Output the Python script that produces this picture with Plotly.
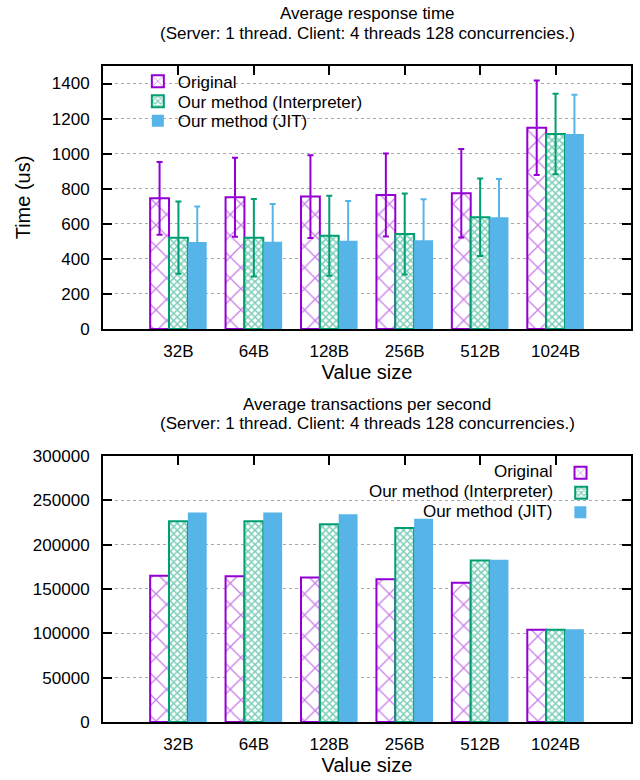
import plotly.graph_objects as go

categories = ["32B", "64B", "128B", "256B", "512B", "1024B"]
series_names = ["Original", "Our method (Interpreter)", "Our method (JIT)"]

# Average response time (us) and error (half-range)
time_original = [745, 751, 755, 764, 774, 1148]
time_interp = [521, 521, 532, 542, 637, 1112]
time_jit = [496, 498, 504, 506, 637, 1112]
err_original = [207, 225, 236, 237, 252, 270]
err_interp = [206, 221, 228, 231, 221, 230]
err_jit = [202, 215, 226, 234, 218, 224]

# Average transactions per second
tps_original = [164800, 164500, 163000, 161100, 157000, 103900]
tps_interp = [226300, 226300, 222900, 218700, 182200, 103900]
tps_jit = [236400, 236400, 234200, 229200, 182900, 104700]

PURPLE = "#9400D3"
GREEN = "#009E73"
BLUE = "#56B4E9"
FONT = "Liberation Sans, Arial, Helvetica, sans-serif"

styles = [
    dict(color="white", line=dict(color=PURPLE, width=2),
         pattern=dict(shape="x", fgcolor=PURPLE, bgcolor="white", size=15, solidity=0.17)),
    dict(color="white", line=dict(color=GREEN, width=2),
         pattern=dict(shape="x", fgcolor=GREEN, bgcolor="white", size=5, solidity=0.5)),
    dict(color=BLUE, line=dict(color=BLUE, width=0)),
]
err_colors = [PURPLE, GREEN, BLUE]

fig = go.Figure()

top_vals = [time_original, time_interp, time_jit]
top_errs = [err_original, err_interp, err_jit]
for i in range(3):
    fig.add_trace(go.Bar(
        x=categories, y=top_vals[i], name=series_names[i],
        marker=styles[i], xaxis="x", yaxis="y",
        error_y=dict(type="data", array=top_errs[i], color=err_colors[i], thickness=2, width=3),
        legend="legend" if i == 0 else "legend%d" % (i + 1),
    ))

bot_vals = [tps_original, tps_interp, tps_jit]
for i in range(3):
    fig.add_trace(go.Bar(
        x=categories, y=bot_vals[i], name=" ",
        marker=styles[i], xaxis="x2", yaxis="y2",
        legend="legend%d" % (i + 4),
    ))

idx = list(range(len(categories)))
# invisible helpers so the top (mirror) tick axes are drawn
fig.add_trace(go.Scatter(x=idx, y=time_original, xaxis="x3", yaxis="y", mode="markers",
                         marker=dict(opacity=0), showlegend=False, hoverinfo="skip"))
fig.add_trace(go.Scatter(x=idx, y=tps_original, xaxis="x4", yaxis="y2", mode="markers",
                         marker=dict(opacity=0), showlegend=False, hoverinfo="skip"))

TOP_DOMAIN = [0.5991, 1.0]
BOT_DOMAIN = [0.0, 0.4055]

common_x = dict(type="category", categoryorder="array", categoryarray=categories,
                range=[-1, len(categories)], showline=True, linecolor="black", linewidth=2,
                mirror=True, ticks="", showgrid=False, zeroline=False,
                tickfont=dict(size=17), ticklabelstandoff=6)
top_ticks = dict(range=[-1, len(categories)], tickmode="array", tickvals=idx,
                 ticks="inside", ticklen=9, tickwidth=1.5, tickcolor="black",
                 showticklabels=False, showline=False, showgrid=False, zeroline=False,
                 side="top")
common_y = dict(showline=True, linecolor="black", linewidth=2, mirror="ticks",
                ticks="inside", ticklen=9, tickwidth=1.5, tickcolor="black",
                showgrid=True, gridcolor="#a8a8a8", griddash="dot", gridwidth=1,
                zeroline=False, tickfont=dict(size=17), ticklabelstandoff=8)

fig.update_layout(
    width=640, height=780,
    margin=dict(l=103, r=9, t=66, b=58, autoexpand=False),
    plot_bgcolor="white", paper_bgcolor="white",
    font=dict(family=FONT, size=17, color="black"),
    barmode="group", bargap=0.25, bargroupgap=0,
    xaxis=dict(common_x, domain=[0, 1], anchor="y",
               title=dict(text="Value size", standoff=3)),
    xaxis2=dict(common_x, domain=[0, 1], anchor="y2",
                title=dict(text="Value size", standoff=3)),
    xaxis3=dict(top_ticks, overlaying="x", anchor="y"),
    xaxis4=dict(top_ticks, overlaying="x2", anchor="y2"),
    yaxis=dict(common_y, domain=TOP_DOMAIN, anchor="x", range=[0, 1500], dtick=200,
               title=dict(text="Time (us)", standoff=16)),
    yaxis2=dict(common_y, domain=BOT_DOMAIN, anchor="x2", range=[0, 300000], dtick=50000,
                tickformat="d"),
)

# legend backgrounds (hide the grid behind the legend, beneath the bars)
fig.add_shape(type="rect", xref="paper", yref="paper", x0=0.003, x1=0.587, y0=0.901, y1=0.997,
              fillcolor="white", line=dict(width=0), layer="between")
fig.add_shape(type="rect", xref="paper", yref="paper", x0=0.407, x1=0.997, y0=0.297, y1=0.402,
              fillcolor="white", line=dict(width=0), layer="between")

# legends for the top chart (one per entry, placed to match row spacing)
top_rows = [0.9761, 0.9456, 0.9157]
for i, yy in enumerate(top_rows):
    key = "legend" if i == 0 else "legend%d" % (i + 1)
    fig.update_layout({key: dict(x=0.066, xanchor="left", y=yy, yanchor="middle",
                                 bgcolor="rgba(0,0,0,0)", borderwidth=0,
                                 font=dict(size=17, family=FONT))})

# legends for the bottom chart: label on the left, swatch on the right
bot_rows = [0.3791, 0.3486, 0.3191]
for i, yy in enumerate(bot_rows):
    key = "legend%d" % (i + 4)
    fig.update_layout({key: dict(x=0.962, xanchor="right", y=yy, yanchor="middle",
                                 bgcolor="rgba(0,0,0,0)", borderwidth=0,
                                 title=dict(text=series_names[i], side="left",
                                            font=dict(size=17, family=FONT)),
                                 font=dict(size=17, family=FONT))})

titles = [
    ("Average response time", 13.5),
    ("(Server: 1 thread. Client: 4 threads 128 concurrencies.)", 33.0),
    ("Average transactions per second", 404.0),
    ("(Server: 1 thread. Client: 4 threads 128 concurrencies.)", 423.5),
]
for text, py in titles:
    fig.add_annotation(text=text, x=0.5, y=(722 - py) / 656, xref="paper", yref="paper",
                       xanchor="center", yanchor="middle", showarrow=False,
                       font=dict(size=17, family=FONT, color="black"))

fig.write_html("out.html", config={"displayModeBar": False},
               post_script="document.body.style.margin='0';")
